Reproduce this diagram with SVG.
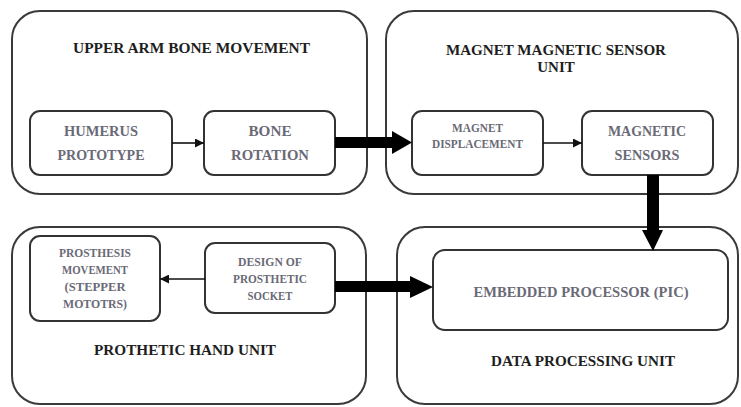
<svg xmlns="http://www.w3.org/2000/svg" width="741" height="407" viewBox="0 0 741 407">
<defs>
<style>
.outer{fill:none;stroke:#3a3a3a;stroke-width:2}
.inner{fill:#fff;stroke:#333;stroke-width:2}
.title{font-family:"Liberation Serif",serif;font-weight:bold;font-size:15px;fill:#1e1e1e;text-anchor:middle}
.lbl{font-family:"Liberation Serif",serif;font-weight:bold;font-size:15px;fill:#6a6a76;text-anchor:middle}
.sm{font-family:"Liberation Serif",serif;font-weight:bold;font-size:12px;fill:#6a6a76;text-anchor:middle}
.thin{stroke:#111;stroke-width:1.6;fill:none}
.thick{fill:#000}
</style>
<marker id="ah" viewBox="0 0 10 10" refX="10" refY="5" markerWidth="10" markerHeight="9" markerUnits="userSpaceOnUse" orient="auto">
<path d="M0,0 L10,5 L0,10 Z" fill="#111"/>
</marker>
</defs>
<rect width="741" height="407" fill="#fff"/>

<g id="upper-arm-unit">
<rect class="outer" x="12" y="11" width="355" height="183" rx="28"/>
<text class="title" x="191.5" y="53" textLength="237" lengthAdjust="spacingAndGlyphs">UPPER ARM BONE MOVEMENT</text>
</g>
<g id="humerus-prototype">
<rect class="inner" x="30" y="111" width="142" height="64" rx="10"/>
<text class="lbl" x="101" y="136" textLength="74" lengthAdjust="spacingAndGlyphs">HUMERUS</text>
<text class="lbl" x="101" y="160" textLength="87" lengthAdjust="spacingAndGlyphs">PROTOTYPE</text>
</g>
<g id="bone-rotation">
<rect class="inner" x="204" y="111" width="131" height="64" rx="10"/>
<text class="lbl" x="270" y="136" textLength="43" lengthAdjust="spacingAndGlyphs">BONE</text>
<text class="lbl" x="270" y="160" textLength="78" lengthAdjust="spacingAndGlyphs">ROTATION</text>
</g>

<g id="magnet-sensor-unit">
<rect class="outer" x="386" y="11" width="352" height="183" rx="28"/>
<text class="title" x="556" y="55" textLength="220" lengthAdjust="spacingAndGlyphs">MAGNET MAGNETIC SENSOR</text>
<text class="title" x="556" y="72">UNIT</text>
</g>
<g id="magnet-displacement">
<rect class="inner" x="412" y="111" width="131" height="64" rx="10"/>
<text class="sm" x="477.5" y="132" textLength="51" lengthAdjust="spacingAndGlyphs">MAGNET</text>
<text class="sm" x="477.5" y="148" textLength="91" lengthAdjust="spacingAndGlyphs">DISPLACEMENT</text>
</g>
<g id="magnetic-sensors">
<rect class="inner" x="582" y="111" width="131" height="64" rx="10"/>
<text class="lbl" x="647" y="136" textLength="78" lengthAdjust="spacingAndGlyphs">MAGNETIC</text>
<text class="lbl" x="647" y="160" textLength="65" lengthAdjust="spacingAndGlyphs">SENSORS</text>
</g>

<g id="prosthetic-hand-unit">
<rect class="outer" x="12" y="227" width="354" height="177" rx="28"/>
<text class="title" x="185" y="355" textLength="182" lengthAdjust="spacingAndGlyphs">PROTHETIC HAND UNIT</text>
</g>
<g id="prosthesis-movement">
<rect class="inner" x="30" y="236" width="130" height="85" rx="10"/>
<text class="sm" x="95" y="257" textLength="72" lengthAdjust="spacingAndGlyphs">PROSTHESIS</text>
<text class="sm" x="95" y="274" textLength="66" lengthAdjust="spacingAndGlyphs">MOVEMENT</text>
<text class="sm" x="95" y="291" textLength="61" lengthAdjust="spacingAndGlyphs">(STEPPER</text>
<text class="sm" x="95" y="308" textLength="64" lengthAdjust="spacingAndGlyphs">MOTOTRS)</text>
</g>
<g id="prosthetic-socket">
<rect class="inner" x="205" y="243" width="130" height="70" rx="10"/>
<text class="sm" x="270" y="266" textLength="64" lengthAdjust="spacingAndGlyphs">DESIGN OF</text>
<text class="sm" x="270" y="283" textLength="74" lengthAdjust="spacingAndGlyphs">PROSTHETIC</text>
<text class="sm" x="270" y="300" textLength="45" lengthAdjust="spacingAndGlyphs">SOCKET</text>
</g>

<g id="data-processing-unit">
<rect class="outer" x="397" y="227" width="341" height="177" rx="28"/>
<text class="title" x="583" y="366" textLength="184" lengthAdjust="spacingAndGlyphs">DATA PROCESSING UNIT</text>
</g>
<g id="embedded-processor">
<rect class="inner" x="433" y="250" width="295" height="80" rx="12"/>
<text class="lbl" x="581" y="297" textLength="215" lengthAdjust="spacingAndGlyphs">EMBEDDED PROCESSOR (PIC)</text>
</g>

<g id="connectors">
<line class="thin" x1="172" y1="143" x2="204" y2="143" marker-end="url(#ah)"/>
<line class="thin" x1="543" y1="143" x2="582" y2="143" marker-end="url(#ah)"/>
<line class="thin" x1="205" y1="279" x2="160" y2="279" marker-end="url(#ah)"/>
<polygon class="thick" points="335,137 392,137 392,131 412,142.5 392,154 392,148 335,148"/>
<polygon class="thick" points="647,175 659,175 659,230 663,230 653,251 642,230 647,230"/>
<polygon class="thick" points="335,281 410,281 410,276 433,287 410,298 410,292 335,292"/>
</g>
</svg>
